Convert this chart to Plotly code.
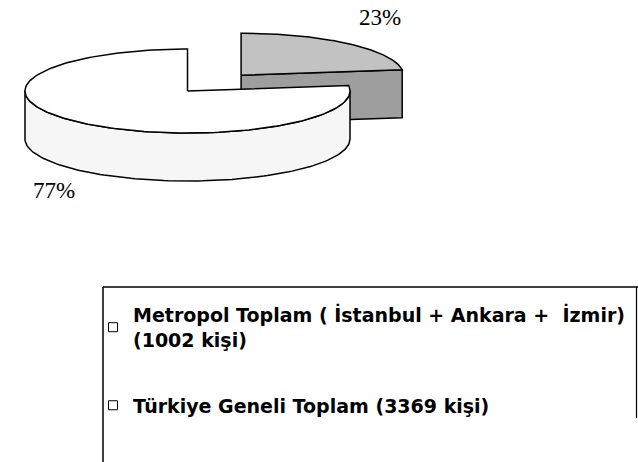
import numpy as np
import plotly.graph_objects as go

# ---- data ----
series_names = [
    "Metropol Toplam ( İstanbul + Ankara +  İzmir)<br>(1002 kişi)",
    "Türkiye Geneli Toplam (3369 kişi)",
]
counts = [1002, 3369]
top_colors = ["#c2c2c2", "#ffffff"]
side_colors = ["#9e9e9e", "#f6f6f6"]

# ---- geometry of the 3D pie (pixel-like coordinates) ----
CX, CY = 187.5, 91.0
RX, RY = 162.5, 42.0
DEPTH = 48.0
EXPLODE = [0.5, 0.0]
START = 90.0  # first slice starts at top, runs clockwise

total = float(sum(counts))
fracs = [c / total for c in counts]


def pts(thetas, dx, dy, depth=0.0):
    t = np.radians(thetas)
    return CX + dx + RX * np.cos(t), CY + dy - RY * np.sin(t) + depth


fig = go.Figure()

slices = []
a = START
for i, f in enumerate(fracs):
    a_end = a - 360.0 * f          # clockwise
    lo, hi = a_end, a              # ccw range lo..hi
    mid = np.radians((lo + hi) / 2)
    dx = EXPLODE[i] * RX * np.cos(mid)
    dy = -EXPLODE[i] * RY * np.sin(mid)
    slices.append((lo, hi, dx, dy))
    a = a_end

line = dict(color="black", width=1.5)
# draw back (exploded) slice first, then front slice
for i in [0, 1]:
    lo, hi, dx, dy = slices[i]
    # front outer side: angles in (180, 360) mod 360
    l2, h2 = lo % 360, lo % 360 + (hi - lo)
    segs = []
    for base in (-360, 0, 360):
        s0, s1 = max(l2, 180 + base), min(h2, 360 + base)
        if s1 > s0:
            segs.append((s0, s1))
    for s0, s1 in segs:
        th = np.linspace(s0, s1, 120)
        x1, y1 = pts(th, dx, dy)
        x2, y2 = pts(th[::-1], dx, dy, DEPTH)
        fig.add_trace(go.Scatter(
            x=np.r_[x1, x2, x1[:1]], y=np.r_[y1, y2, y1[:1]],
            mode="lines", fill="toself", fillcolor=side_colors[i],
            line=line, showlegend=False, hoverinfo="skip"))
    # cut face at the low angle if it faces the viewer
    if np.sin(np.radians(lo)) > 0 and np.cos(np.radians(lo)) > 0:
        ex, ey = pts([lo], dx, dy)
        fx = [CX + dx, ex[0], ex[0], CX + dx, CX + dx]
        fy = [CY + dy, ey[0], ey[0] + DEPTH, CY + dy + DEPTH, CY + dy]
        fig.add_trace(go.Scatter(
            x=fx, y=fy, mode="lines", fill="toself",
            fillcolor=side_colors[i], line=line,
            showlegend=False, hoverinfo="skip"))
    # top face
    th = np.linspace(lo, hi, 200)
    x1, y1 = pts(th, dx, dy)
    fig.add_trace(go.Scatter(
        x=np.r_[CX + dx, x1, CX + dx], y=np.r_[CY + dy, y1, CY + dy],
        mode="lines", fill="toself", fillcolor=top_colors[i],
        line=line, showlegend=False, hoverinfo="skip"))

# percentage labels
pct_pos = [(380, 17), (54, 190)]
for i, f in enumerate(fracs):
    fig.add_annotation(x=pct_pos[i][0], y=pct_pos[i][1], xref="x", yref="y",
                       text=f"{round(f * 100)}%", showarrow=False,
                       font=dict(family="Liberation Serif", size=23, color="black"))

# legend entries
for i, name in enumerate(series_names):
    fig.add_trace(go.Scatter(
        x=[None], y=[None], mode="markers", name=name,
        legendgroup=f"g{i}",
        marker=dict(symbol="square-open", size=9, color="black",
                    line=dict(width=1))))

W, H = 638, 462
# legend frame
fig.add_shape(type="line", xref="x", yref="y", x0=103, x1=638, y0=287, y1=287,
              line=dict(color="black", width=1.5))
fig.add_shape(type="line", xref="x", yref="y", x0=103, x1=103, y0=287, y1=462,
              line=dict(color="black", width=1.5))
fig.add_shape(type="line", xref="x", yref="y", x0=636.5, x1=636.5, y0=287, y1=418,
              line=dict(color="black", width=1.2))

fig.update_layout(
    width=W, height=H,
    margin=dict(l=0, r=0, t=0, b=0),
    paper_bgcolor="white", plot_bgcolor="white",
    xaxis=dict(range=[0, W], visible=False, fixedrange=True),
    yaxis=dict(range=[H, 0], visible=False, fixedrange=True),
    showlegend=True,
    legend=dict(x=93 / W, y=1 - 296 / H, xanchor="left", yanchor="top",
                bgcolor="rgba(0,0,0,0)", borderwidth=0,
                tracegroupgap=38, traceorder="grouped",
                font=dict(family="DejaVu Sans", size=19, color="black",
                          weight="bold")),
)

fig.write_html("out.html", config={"displayModeBar": False},
               post_script="document.body.style.margin='0px';document.body.style.overflow='hidden';")
